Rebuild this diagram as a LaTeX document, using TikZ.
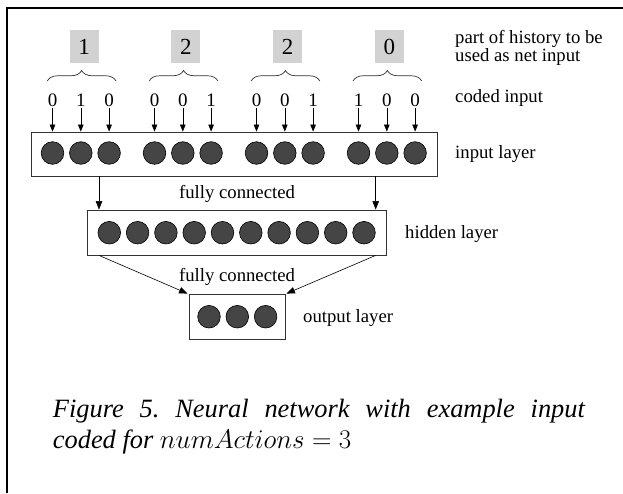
\RequirePackage{fix-cm}
\documentclass[tikz,border=0pt]{standalone}
\usepackage[no-math]{fontspec}
\setmainfont{Liberation Serif}
\usetikzlibrary{arrows.meta,decorations.pathreplacing,calc}
\begin{document}
\begin{tikzpicture}[x=1pt,y=-1pt,
  neuron/.style={circle,draw=black,line width=0.6pt,fill=black!73,minimum size=22.6pt,inner sep=0pt},
  layerbox/.style={draw=black!80,line width=0.8pt,inner sep=0pt},
  hist/.style={fill=gray!35,minimum width=29pt,minimum height=33pt,inner sep=0pt,font=\fontsize{23}{23}\selectfont},
  digit/.style={font=\fontsize{19}{19}\selectfont,inner sep=1pt,anchor=base},
  lbl/.style={font=\fontsize{18.7}{18.7}\selectfont,inner sep=0pt,anchor=base west},
  arr/.style={line width=0.6pt,-{Triangle[length=7pt,width=5.5pt]}},
  arrb/.style={line width=0.6pt,-{Triangle[length=8.5pt,width=6.5pt]}},
  bracestyle/.style={draw=black!80,line width=0.7pt,decorate,decoration={brace,amplitude=10.5pt}}]
\useasboundingbox (0,0) rectangle (623,493);
% frame
\draw[line width=2pt] (7,493) -- (7,8.3) -- (623,8.3);
% layer boxes
\node[layerbox,minimum width=406pt,minimum height=44pt] (inbox) at (234,154) {};
\node[layerbox,minimum width=299.7pt,minimum height=45pt] (hidbox) at (236.85,232.5) {};
\node[layerbox,minimum width=96pt,minimum height=45pt] (outbox) at (237,316.5) {};
% history boxes, braces, digits, input neurons
\foreach \g/\hv/\a/\b/\c in {0/1/0/1/0,1/2/0/0/1,2/2/0/0/1,3/0/1/0/0}{
  \node[hist] (h\g) at ({84+101.8*\g},46.5) {\hv};
  \draw[bracestyle] ({47.3+101.9*\g},81) -- ({116+101.9*\g},81);
  \foreach \k/\v in {0/\a,1/\b,2/\c}{
    \node[neuron] (i\g\k) at ({52.5+102*\g+28.3*\k},153) {};
    \node[digit] (d\g\k) at ({52.5+102*\g+28.3*\k},106.5) {\v};
    \draw[arr] (d\g\k.south) -- (d\g\k.south |- inbox.north);
  }
}
% hidden neurons
\foreach \k in {0,...,9}{
  \node[neuron] (hn\k) at ({109.3+28.3*\k},232.7) {};
}
% output neurons
\foreach \k in {0,1,2}{
  \node[neuron] (on\k) at ({209+28.3*\k},316.7) {};
}
% connectors
\coordinate (cl) at (99,0);
\coordinate (cr) at (375.7,0);
\draw[arrb] (cl |- inbox.south) -- (cl |- hidbox.north);
\draw[arrb] (cr |- inbox.south) -- (cr |- hidbox.north);
\draw[arrb] (cl |- hidbox.south) -- ([xshift=-1pt]outbox.north west);
\draw[arrb] (cr |- hidbox.south) -- ([xshift=1pt]outbox.north east);
% labels
\node[lbl] (lh1) at (455,43.5) {part of history to be};
\node[lbl] (lh2) at (455,61.5) {used as net input};
\node[lbl] (lci) at (455,102) {coded input};
\node[lbl] (lil) at (455,158) {input layer};
\node[lbl] (lhl) at (405,238) {hidden layer};
\node[lbl] (lol) at (303,322) {output layer};
\node[font=\fontsize{18.7}{18.7}\selectfont,inner sep=0pt,anchor=base] (fc1) at (237,198) {fully connected};
\node[font=\fontsize{18.7}{18.7}\selectfont,inner sep=0pt,anchor=base] (fc2) at (237,281) {fully connected};
% caption
\node[inner sep=0pt,anchor=base west,font=\fontsize{26.4}{31}\selectfont\itshape] (cap1) at (52.7,417)
  {\hbox to 532pt{Figure\hfill 5.\hfill Neural\hfill network\hfill with\hfill example\hfill input}};
\node[inner sep=0pt,anchor=base west,font=\fontsize{26.4}{31}\selectfont\itshape] (cap2) at (52.7,448)
  {coded for {\fontsize{27}{31}\selectfont$numActions = 3$}};
\end{tikzpicture}
\end{document}
